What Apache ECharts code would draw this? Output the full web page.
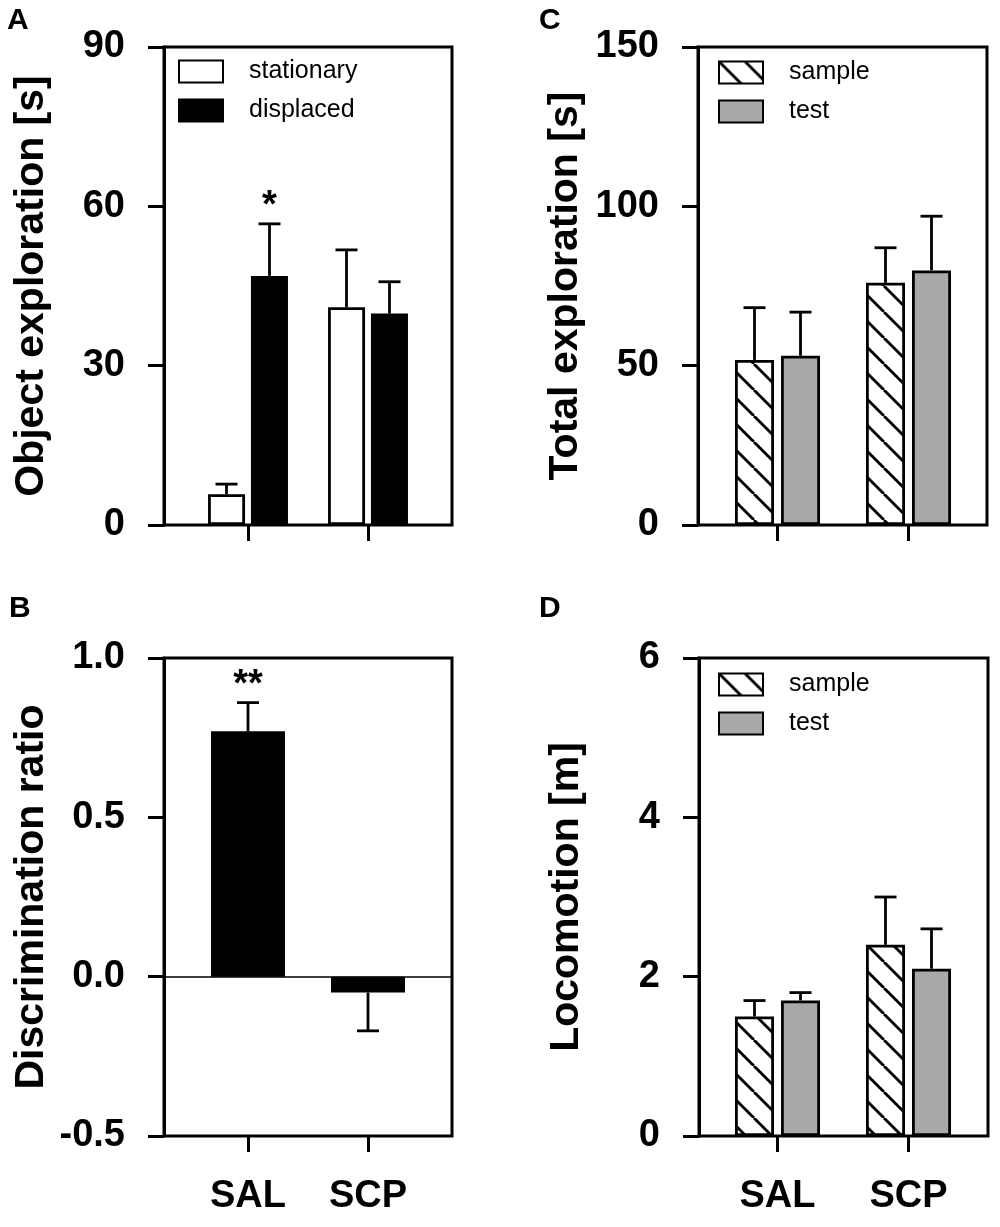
<!DOCTYPE html>
<html>
<head>
<meta charset="utf-8">
<script src="https://cdn.jsdelivr.net/npm/echarts@6/dist/echarts.min.js"></script>
<style>
  html, body { margin: 0; padding: 0; background: #fff; }
  #chart { width: 1000px; height: 1227px; }
</style>
</head>
<body>
<div id="chart"></div>
<script>
// groups on the x axis
const groups = ['SAL', 'SCP'];

// A: object exploration [s]
const stationary = [5.8, 41.0];
const stationaryErr = [1.9, 10.8];
const displaced = [46.9, 39.8];
const displacedErr = [9.8, 6.0];
const starsA = ['*', ''];

// B: discrimination ratio
const discrimination = [0.77, -0.05];
const discriminationErr = [0.09, -0.12];
const starsB = ['**', ''];

// C: total exploration [s]
const totalSample = [51.8, 76.0];
const totalSampleErr = [16.4, 11.0];
const totalTest = [53.1, 79.9];
const totalTestErr = [13.7, 17.0];

// D: locomotion [m]
const locoSample = [1.5, 2.4];
const locoSampleErr = [0.2, 0.6];
const locoTest = [1.7, 2.1];
const locoTestErr = [0.1, 0.5];

const FONT = '"Liberation Sans", Arial, sans-serif';
const GREY = '#a8a8a8';

// diagonal hatch used for "sample"
function hatchPattern() {
    const s = 26;
    const c = document.createElement('canvas');
    c.width = s; c.height = s;
    const g = c.getContext('2d');
    g.fillStyle = '#fff';
    g.fillRect(0, 0, s, s);
    g.strokeStyle = '#000';
    g.lineWidth = 2.8;
    [-s, 0, s].forEach(dx => {
        g.beginPath();
        g.moveTo(dx, 0);
        g.lineTo(dx + s, s);
        g.stroke();
    });
    return { image: c, repeat: 'repeat' };
}
const hatch = hatchPattern();

const grid = [];
const xAxis = [];
const yAxis = [];
const series = [];
const legend = [];

// one panel = a frame grid (box + value axis) and an inner grid holding the bars
function addPanel(p) {
    const fi = grid.length;
    grid.push({
        left: p.left, top: p.top, width: p.width, height: p.height,
        show: true, borderColor: '#000', borderWidth: 3, backgroundColor: 'transparent'
    });
    xAxis.push({
        gridIndex: fi, type: 'value', min: 0, max: 1,
        show: !!p.zeroLine,
        axisLine: { show: !!p.zeroLine, onZero: true, lineStyle: { color: '#000', width: 1.6 } },
        axisTick: { show: false }, axisLabel: { show: false }, splitLine: { show: false }
    });
    yAxis.push({
        gridIndex: fi, type: 'value', min: p.min, max: p.max, interval: p.interval,
        name: p.title, nameLocation: 'middle', nameGap: 112,
        nameTextStyle: { fontFamily: FONT, fontWeight: 'bold', fontSize: 41, color: '#000' },
        axisLine: { show: true, lineStyle: { color: '#000', width: 3 } },
        axisTick: { show: true, length: 16, lineStyle: { color: '#000', width: 3 } },
        axisLabel: {
            margin: 39, fontFamily: FONT, fontWeight: 'bold', fontSize: 38, color: '#000',
            formatter: v => p.decimals ? v.toFixed(p.decimals) : String(v)
        },
        splitLine: { show: false }
    });

    const bi = grid.length;
    grid.push({ left: p.barLeft, top: p.top, width: p.barWidthArea, height: p.height });
    xAxis.push({
        gridIndex: bi, type: 'category', data: groups,
        axisLine: { show: false, onZero: false },
        axisTick: { show: true, alignWithLabel: true, length: 16, lineStyle: { color: '#000', width: 3 } },
        axisLabel: {
            show: !!p.showGroups, margin: 42, fontFamily: FONT, fontWeight: 'bold',
            fontSize: 38, color: '#000'
        }
    });
    yAxis.push({ gridIndex: bi, type: 'value', min: p.min, max: p.max, show: false });

    const n = p.bars.length;
    p.bars.forEach((b, k) => {
        series.push({
            name: b.name, type: 'bar', xAxisIndex: bi, yAxisIndex: bi,
            data: b.values, barWidth: p.barW, barGap: p.barGap,
            itemStyle: { color: b.color, borderColor: '#000', borderWidth: 2.8 },
            emphasis: { disabled: true }, z: 2
        });
        const offset = n === 1 ? 0 : (k - (n - 1) / 2) * (p.barW + p.gapPx);
        series.push({
            type: 'custom', xAxisIndex: bi, yAxisIndex: bi, z: 3, clip: false,
            data: b.values.map((v, i) => [i, v, b.errs[i]]),
            encode: { x: 0, y: 1 },
            renderItem: (params, api) => {
                const ci = api.value(0);
                const v = api.value(1);
                const e = api.value(2);
                const base = api.coord([ci, v]);
                const tip = api.coord([ci, v + e]);
                const x = base[0] + offset;
                const children = [
                    { type: 'line', shape: { x1: x, y1: base[1], x2: x, y2: tip[1] },
                      style: { stroke: '#000', lineWidth: 2.8 } },
                    { type: 'line', shape: { x1: x - 11, y1: tip[1], x2: x + 11, y2: tip[1] },
                      style: { stroke: '#000', lineWidth: 2.8 } }
                ];
                const star = b.stars ? b.stars[params.dataIndex] : '';
                if (star) {
                    children.push({
                        type: 'text',
                        style: {
                            text: star, x: x, y: tip[1] + 2, align: 'center', verticalAlign: 'bottom',
                            font: 'bold 38px ' + FONT, fill: '#000'
                        }
                    });
                }
                return { type: 'group', children: children };
            }
        });
    });

    if (p.legendTop != null) {
        legend.push({
            data: p.bars.map(b => b.name), orient: 'vertical',
            left: p.legendLeft, top: p.legendTop,
            itemWidth: 44, itemHeight: 22, itemGap: 14,
            selectedMode: false, icon: 'rect',
            textStyle: {
                fontFamily: FONT, fontSize: 25, color: '#000', lineHeight: 22,
                padding: [0, 0, 0, 21]
            }
        });
    }
}

addPanel({
    left: 164, top: 47, width: 288, height: 478, barLeft: 188, barWidthArea: 240,
    min: 0, max: 90, interval: 30, title: 'Object exploration [s]',
    barW: 37, barGap: '16%', gapPx: 6, legendLeft: 173, legendTop: 54,
    bars: [
        { name: 'stationary', values: stationary, errs: stationaryErr, color: '#fff' },
        { name: 'displaced', values: displaced, errs: displacedErr, color: '#000', stars: starsA }
    ]
});

addPanel({
    left: 164, top: 658, width: 288, height: 478, barLeft: 188, barWidthArea: 240,
    min: -0.5, max: 1.0, interval: 0.5, decimals: 1, title: 'Discrimination ratio',
    barW: 74, barGap: '0%', gapPx: 0, zeroLine: true, showGroups: true,
    bars: [
        { name: 'ratio', values: discrimination, errs: discriminationErr, color: '#000', stars: starsB }
    ]
});

addPanel({
    left: 698, top: 47, width: 289, height: 478, barLeft: 712, barWidthArea: 262,
    min: 0, max: 150, interval: 50, title: 'Total exploration [s]',
    barW: 39, barGap: '18%', gapPx: 7, legendLeft: 713, legendTop: 55,
    bars: [
        { name: 'sample', values: totalSample, errs: totalSampleErr, color: hatch },
        { name: 'test', values: totalTest, errs: totalTestErr, color: GREY }
    ]
});

addPanel({
    left: 699, top: 658, width: 289, height: 478, barLeft: 712, barWidthArea: 262,
    min: 0, max: 6, interval: 2, title: 'Locomotion [m]',
    barW: 39, barGap: '18%', gapPx: 7, legendLeft: 713, legendTop: 667, showGroups: true,
    bars: [
        { name: 'sample', values: locoSample, errs: locoSampleErr, color: hatch },
        { name: 'test', values: locoTest, errs: locoTestErr, color: GREY }
    ]
});

const letters = [['A', 7, 6], ['B', 9, 594], ['C', 539, 6], ['D', 539, 594]];

const chart = echarts.init(document.getElementById('chart'), null, { renderer: 'canvas' });
chart.setOption({
    backgroundColor: '#fff',
    animation: false,
    grid: grid,
    xAxis: xAxis,
    yAxis: yAxis,
    legend: legend,
    series: series,
    graphic: letters.map(l => ({
        type: 'text', left: l[1], top: l[2],
        style: { text: l[0], font: 'bold 30px ' + FONT, fill: '#000' }
    }))
});
</script>
</body>
</html>
